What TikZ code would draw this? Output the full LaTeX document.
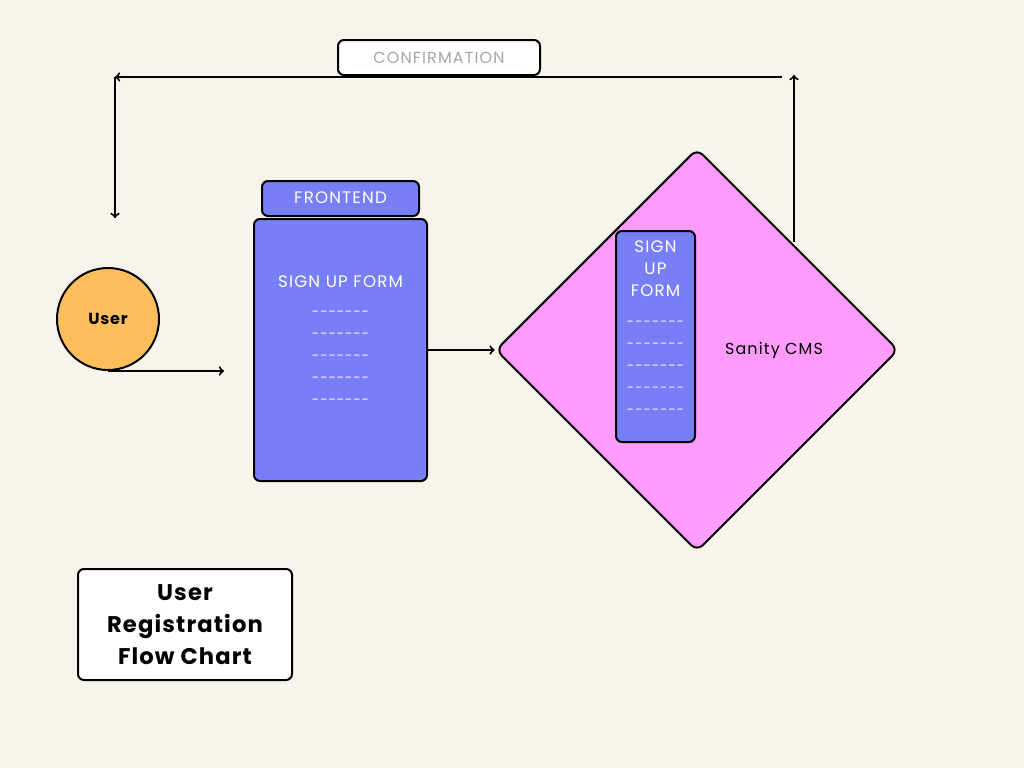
\documentclass[tikz,border=0pt]{standalone}
\usepackage{fontspec}
\setmainfont{Poppins}
\newfontfamily\wide[LetterSpace=7]{Poppins}
\newfontfamily\widebold[LetterSpace=5]{Poppins Bold}
\usetikzlibrary{shapes.geometric,positioning}
\definecolor{paper}{HTML}{F8F4EC}
\definecolor{formblue}{HTML}{787EF6}
\definecolor{cmspink}{HTML}{FF9BFC}
\definecolor{useryellow}{HTML}{FFBE5C}
\definecolor{lightgrey}{HTML}{A6A6A6}
\tikzset{
    box/.style={draw, line width=1.5pt, rounded corners=4.5pt, inner sep=0pt},
    formbox/.style={box, fill=formblue},
    whitebox/.style={box, fill=white},
    formtext/.style={text=white, font=\wide\fontsize{12.5}{16.5}\selectfont},
    dashtext/.style={text=white!92!formblue, font=\wide\fontsize{10}{12}\selectfont},
    flow/.style={line width=1.5pt, ->},
}

\begin{document}
\begin{tikzpicture}[x=0.75pt, y=-0.75pt]

    \fill[paper] (0,0) rectangle (1024,768);
    \useasboundingbox (0,0) rectangle (1024,768);

    % user
    \node[circle, draw, line width=1.5pt, fill=useryellow, minimum size=76.5pt, inner sep=0pt, font=\widebold\fontsize{12}{14}\selectfont] (user) at (108,319) {User};

    % frontend
    \node[formbox, minimum width=117.75pt, minimum height=26.25pt] (frontend) at (340.5,198.5) {};
    \node[formtext] (frontendtext) at (340.5,198) {FRONTEND};
    \node[formbox, minimum width=129.75pt, minimum height=196.5pt] (form) at (340.5,350) {};
    \node[formtext] (formtext) at (340.5,282) {SIGN UP FORM};
    \foreach \i/\y in {1/314,2/336,3/358,4/380,5/402}
        \node[dashtext] (fdash\i) at (340.5,\y) {-------};

    % sanity cms
    \node[diamond, draw, line width=1.5pt, fill=cmspink, rounded corners=6pt, minimum width=302pt, minimum height=302pt, inner sep=0pt] (cms) at (697,350) {};
    \node[font=\wide\fontsize{12}{14}\selectfont] (cmstext) at (774,350) {Sanity CMS};
    \node[formbox, minimum width=59.25pt, minimum height=158.25pt] (cmsform) at (655.5,336.5) {};
    \node[formtext, align=center] (cmsformtext) at (655.5,269) {SIGN\\UP\\FORM};
    \foreach \i/\y in {1/324,2/346,3/368,4/390,5/412}
        \node[dashtext] (cdash\i) at (655.5,\y) {-------};

    % confirmation
    \node[whitebox, minimum width=151.5pt, minimum height=26.25pt, text=lightgrey, font=\wide\fontsize{12}{14}\selectfont] (confirm) at (439,57.5) {CONFIRMATION};

    % title
    \node[whitebox, minimum width=160.5pt, minimum height=83.25pt, align=center, font=\widebold\fontsize{17}{24}\selectfont] (title) at (185,624.5) {User\\Registration\\Flow Chart};

    % connectors
    \coordinate (userout) at (224,371);
    \coordinate (cmsout) at (794,242);
    \coordinate (topright) at (794,75);
    \coordinate (backstart) at (782,77);
    \coordinate (corner) at (115,77);
    \coordinate (userin) at (115,218);

    \draw[flow] (user.south) -- (userout);
    \draw[flow] (form.east) -- (cms.west);
    \draw[flow] (cmsout) -- (topright);
    \draw[flow] (backstart) -- (corner);
    \draw[flow] (corner) -- (userin);

\end{tikzpicture}
\end{document}
